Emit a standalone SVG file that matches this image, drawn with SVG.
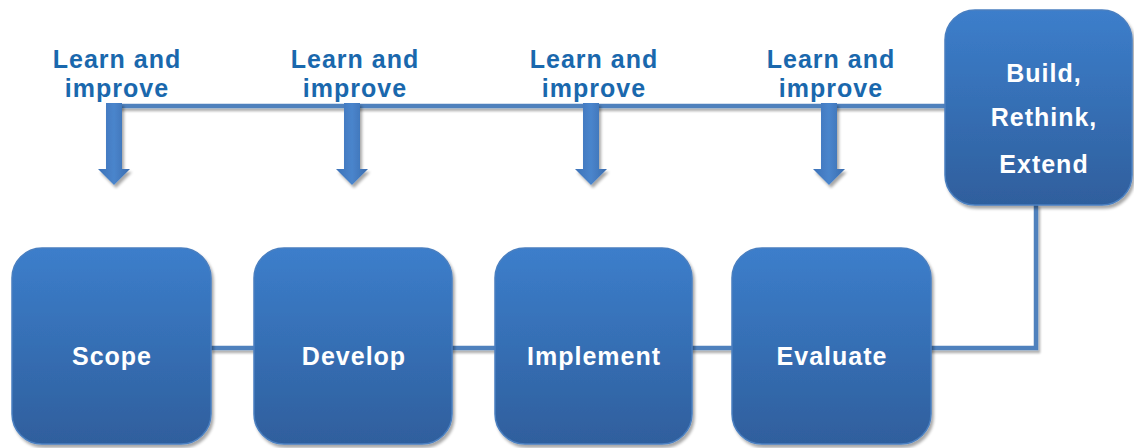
<svg xmlns="http://www.w3.org/2000/svg" width="1134" height="448" viewBox="0 0 1134 448">
<defs>
<linearGradient id="g" x1="0" y1="0" x2="0" y2="1">
<stop offset="0" stop-color="#3c7ecb"/>
<stop offset="1" stop-color="#2f5f9d"/>
</linearGradient>
<linearGradient id="ga" x1="0" y1="0" x2="1" y2="0">
<stop offset="0" stop-color="#3d72b8"/>
<stop offset="0.5" stop-color="#4a85cc"/>
<stop offset="1" stop-color="#3a6cae"/>
</linearGradient>
<filter id="sh" x="-10%" y="-10%" width="130%" height="130%">
<feGaussianBlur in="SourceAlpha" stdDeviation="1.5"/>
<feOffset dx="2" dy="3" result="o"/>
<feComponentTransfer><feFuncA type="linear" slope="0.35"/></feComponentTransfer>
<feMerge><feMergeNode/><feMergeNode in="SourceGraphic"/></feMerge>
</filter>
<filter id="shl" filterUnits="userSpaceOnUse" x="0" y="0" width="1134" height="448">
<feGaussianBlur in="SourceAlpha" stdDeviation="1.2"/>
<feOffset dx="2" dy="3" result="o"/>
<feComponentTransfer><feFuncA type="linear" slope="0.3"/></feComponentTransfer>
<feMerge><feMergeNode/><feMergeNode in="SourceGraphic"/></feMerge>
</filter>
<g id="arrow">
<path d="M-8,0 H8 V66 H16 L0,82 L-16,66 H-8 Z" fill="url(#ga)" filter="url(#sh)"/>
</g>
</defs>
<style>
.box{fill:url(#g);stroke:#4a7fc0;stroke-width:1.5;filter:url(#sh)}
.bt{font-family:"Liberation Sans",Arial,sans-serif;font-weight:bold;font-size:25px;letter-spacing:1px;fill:#ffffff;text-anchor:middle}
.lt{font-family:"Liberation Sans",Arial,sans-serif;font-weight:bold;font-size:25px;letter-spacing:1px;fill:#1a68ad;text-anchor:middle}
.ln{fill:none;stroke:#4f81bd;stroke-width:4.5;filter:url(#shl)}
</style>
<rect width="1134" height="448" fill="#ffffff"/>
<g id="connectors">
<path class="ln" d="M110,106 H946"/>
<path class="ln" d="M210,348 H1036 V204"/>
<use href="#arrow" x="114" y="103"/>
<use href="#arrow" x="352" y="103"/>
<use href="#arrow" x="591" y="103"/>
<use href="#arrow" x="829" y="103"/>
</g>
<g id="label1"><text class="lt" x="117" y="68">Learn and</text><text class="lt" x="117" y="97">improve</text></g>
<g id="label2"><text class="lt" x="355" y="68">Learn and</text><text class="lt" x="355" y="97">improve</text></g>
<g id="label3"><text class="lt" x="594" y="68">Learn and</text><text class="lt" x="594" y="97">improve</text></g>
<g id="label4"><text class="lt" x="831" y="68">Learn and</text><text class="lt" x="831" y="97">improve</text></g>
<g id="scope"><rect class="box" x="12" y="248" width="199" height="196" rx="30"/><text class="bt" x="112" y="365">Scope</text></g>
<g id="develop"><rect class="box" x="254" y="248" width="198" height="196" rx="30"/><text class="bt" x="354" y="365">Develop</text></g>
<g id="implement"><rect class="box" x="495" y="248" width="197" height="196" rx="30"/><text class="bt" x="594" y="365">Implement</text></g>
<g id="evaluate"><rect class="box" x="732" y="248" width="199" height="196" rx="30"/><text class="bt" x="832" y="365">Evaluate</text></g>
<g id="build"><rect class="box" x="945" y="10" width="187" height="195" rx="30"/><text class="bt" x="1044" y="82">Build,</text><text class="bt" x="1044" y="126">Rethink,</text><text class="bt" x="1044" y="173">Extend</text></g>
</svg>
